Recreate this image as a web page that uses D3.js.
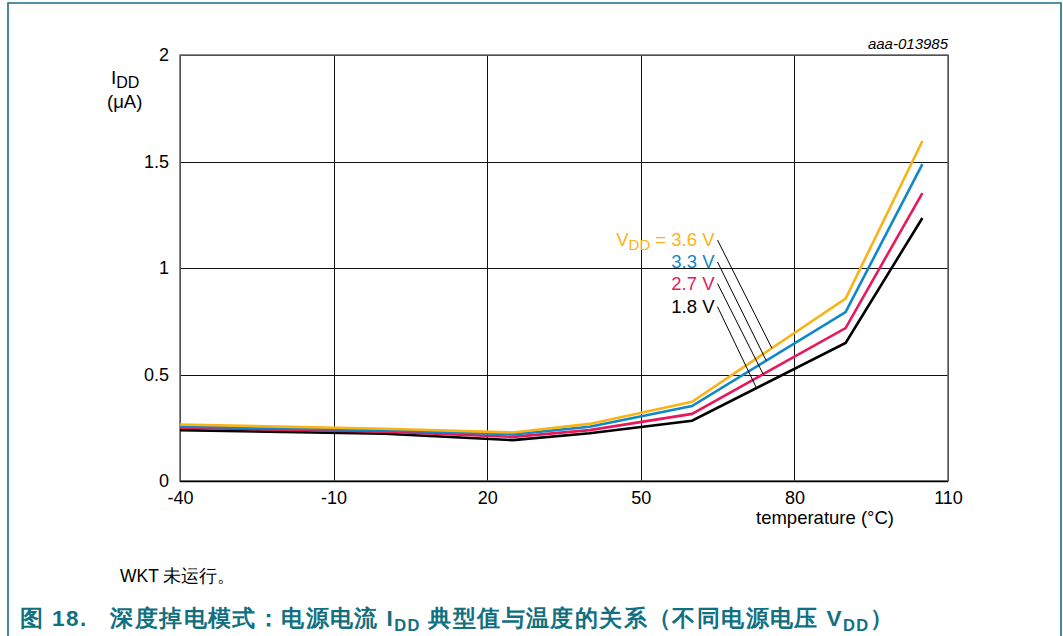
<!DOCTYPE html>
<html><head><meta charset="utf-8">
<script src="https://cdn.jsdelivr.net/npm/d3@7"></script>
<style>
body{margin:0;background:#fff;}
svg{display:block;}
text{font-family:"Liberation Sans",Arial,sans-serif;white-space:pre;}
</style></head>
<body>
<svg id="c" width="1063" height="636"></svg>
<script>
const temps = [-40, 0, 25, 40, 60, 90, 105];
const v36 = [0.265, 0.245, 0.228, 0.268, 0.372, 0.856, 1.596];
const v33 = [0.256, 0.238, 0.219, 0.255, 0.352, 0.793, 1.488];
const v27 = [0.250, 0.232, 0.207, 0.239, 0.315, 0.718, 1.352];
const v18 = [0.239, 0.222, 0.192, 0.224, 0.283, 0.648, 1.235];
const seriesNames = ["VDD = 3.6 V", "3.3 V", "2.7 V", "1.8 V"];
const xTicks = [-40, -10, 20, 50, 80, 110];
const xTickLabels = ["-40", "-10", "20", "50", "80", "110"];
const yTicks = [0, 0.5, 1, 1.5, 2];
const yTickLabels = ["0", "0.5", "1", "1.5", "2"];
const colors = ["#F9B316", "#0E88C9", "#E5195C", "#000000"];
// label anchor (temp, value) and leader target temps
const labelTemp = 64.4;
const labelVals = [1.103, 1.0, 0.899, 0.79];
const leaderTemps = [75.6, 74.5, 73.9, 72.6];

const series = [v36, v33, v27, v18];
const svg = d3.select("#c");
const x = d3.scaleLinear().domain([-40, 110]).range([180, 948]);
const y = d3.scaleLinear().domain([0, 2]).range([481, 55]);

// outer teal frame
svg.append("path").attr("d", "M8,640 L8,3 L1061,3 L1061,640")
  .attr("fill", "none").attr("stroke", "#17707F").attr("stroke-width", 1.6);

// grid
const g = svg.append("g");
xTicks.forEach(t => g.append("line").attr("x1", Math.round(x(t)) + 0.5).attr("x2", Math.round(x(t)) + 0.5)
  .attr("y1", y(0)).attr("y2", y(2)).attr("stroke", "#111").attr("stroke-width", 1));
yTicks.forEach(t => g.append("line").attr("y1", Math.round(y(t)) + 0.5).attr("y2", Math.round(y(t)) + 0.5)
  .attr("x1", x(-40)).attr("x2", x(110)).attr("stroke", "#111").attr("stroke-width", 1));
g.append("rect").attr("x", x(-40)).attr("y", y(2)).attr("width", x(110) - x(-40)).attr("height", y(0) - y(2))
  .attr("fill", "none").attr("stroke", "#666").attr("stroke-width", 1.5);
g.append("line").attr("x1", x(-40)).attr("x2", x(110)).attr("y1", y(0)+0.5).attr("y2", y(0)+0.5).attr("stroke","#000").attr("stroke-width",1.3);

// axes labels via d3 axes
const xAxis = svg.append("g").attr("transform", `translate(0,${y(0)})`)
  .call(d3.axisBottom(x).tickValues(xTicks).tickFormat((d, i) => xTickLabels[i]).tickSize(0).tickPadding(10));
xAxis.select(".domain").remove();
xAxis.selectAll("text").attr("font-size", 18).attr("fill", "#000").attr("font-family", "Liberation Sans, Arial, sans-serif");
const yAxis = svg.append("g").attr("transform", `translate(${x(-40)},0)`)
  .call(d3.axisLeft(y).tickValues(yTicks).tickFormat((d, i) => yTickLabels[i]).tickSize(0).tickPadding(11));
yAxis.select(".domain").remove();
yAxis.selectAll("text").attr("font-size", 18).attr("fill", "#000").attr("font-family", "Liberation Sans, Arial, sans-serif");

// axis titles
svg.append("text").attr("x", 825).attr("y", 524).attr("text-anchor", "middle").attr("font-size", 18.5).text("temperature (°C)");
const yt = svg.append("text").attr("x", 111).attr("y", 84).attr("font-size", 19);
yt.append("tspan").text("I");
yt.append("tspan").attr("font-size", 16).attr("dy", 4).text("DD");
svg.append("text").attr("x", 107).attr("y", 108).attr("font-size", 18.5).text("(μA)");
svg.append("text").attr("x", 948).attr("y", 49).attr("text-anchor", "end").attr("font-size", 15)
  .attr("font-style", "italic").text("aaa-013985");

// lines
const line = d3.line().x((d, i) => x(temps[i])).y(d => y(d));
[3, 2, 1, 0].forEach(k => {
  svg.append("path").datum(series[k]).attr("d", line).attr("fill", "none")
    .attr("stroke", colors[k]).attr("stroke-width", 2.6).attr("stroke-linejoin", "miter");
});

// labels + leaders
function valAt(arr, t) {
  for (let i = 0; i < temps.length - 1; i++) {
    if (t >= temps[i] && t <= temps[i + 1]) {
      const f = (t - temps[i]) / (temps[i + 1] - temps[i]);
      return arr[i] + f * (arr[i + 1] - arr[i]);
    }
  }
  return arr[arr.length - 1];
}
seriesNames.forEach((name, k) => {
  const tx = x(labelTemp), ty = y(labelVals[k]);
  const t = svg.append("text").attr("x", tx).attr("y", ty).attr("text-anchor", "end")
    .attr("font-size", 18.5).attr("fill", colors[k]);
  if (k === 0) {
    t.append("tspan").text("V");
    t.append("tspan").attr("font-size", 15).attr("dy", 4).text("DD");
    t.append("tspan").attr("dy", -4).text(" = 3.6 V");
  } else {
    t.text(name);
  }
  svg.append("line").attr("x1", tx + 3).attr("y1", ty - 6)
    .attr("x2", x(leaderTemps[k])).attr("y2", y(valAt(series[k], leaderTemps[k])))
    .attr("stroke", "#000").attr("stroke-width", 1);
});

// notes
svg.append("text").attr("x", 120).attr("y", 582).attr("font-size", 17.5)
  .attr("font-family", "Liberation Sans, 'Noto Sans CJK SC', sans-serif").text("WKT 未运行。");
const title = svg.append("text").attr("x", 20).attr("y", 626).attr("font-size", 22.5)
  .attr("font-weight", "bold").attr("fill", "#11707F")
  .attr("font-family", "'Liberation Sans', 'Noto Sans CJK SC', sans-serif").attr("letter-spacing", 1.4);
title.append("tspan").text("图 18.   深度掉电模式：电源电流 I");
title.append("tspan").attr("font-size", 16.5).attr("dy", 5).text("DD");
title.append("tspan").attr("dy", -5).text(" 典型值与温度的关系（不同电源电压 V");
title.append("tspan").attr("font-size", 16.5).attr("dy", 5).text("DD");
title.append("tspan").attr("dy", -5).text("）");
</script>
</body></html>
